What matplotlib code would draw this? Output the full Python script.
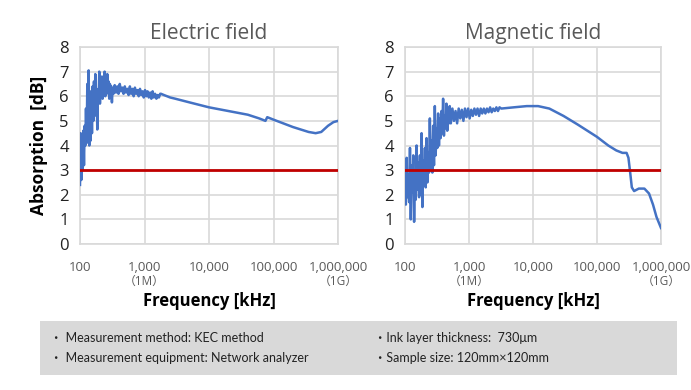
import numpy as np
import matplotlib
matplotlib.use("Agg")
import matplotlib.pyplot as plt
from matplotlib.patches import Rectangle

plt.rcParams['font.family'] = ['Open Sans', 'Noto Sans CJK JP', 'DejaVu Sans']

# ---------------- data ----------------
# Electric field: noisy low-frequency part (100-320 kHz)
e_noisy1 = [2.4, 4.5, 2.6, 4.4, 3.0, 4.6, 3.2, 4.8, 4.0, 5.5, 4.1, 6.5, 4.3, 7.05,
            4.0, 6.2, 4.2, 6.0, 4.5, 6.4, 5.0, 6.6, 5.2, 6.9, 5.5, 6.3, 4.65, 6.2,
            5.8, 7.0, 5.7, 6.5, 6.0, 6.8, 5.9, 6.6, 6.1, 7.0, 6.0, 6.7, 6.1, 6.9,
            6.2, 6.6, 5.9, 6.5, 6.1, 6.4, 5.75, 6.3]
# Electric field: moderately noisy part (330-1750 kHz)
e_noisy2 = [6.1, 6.45, 6.15, 6.4, 6.1, 6.5, 6.2, 6.35, 6.1, 6.4, 6.15, 6.3, 6.05,
            6.4, 6.1, 6.3, 6.0, 6.35, 6.1, 6.25, 6.0, 6.3, 6.05, 6.2, 5.95, 6.25,
            6.0, 6.2, 5.95, 6.15, 5.9, 6.2, 5.95, 6.1, 5.9, 6.05, 5.95, 6.1]
# Electric field: smooth high-frequency part
e_freq_smooth = [1800, 2000, 2500, 3000, 5000, 10000, 20000, 40000, 60000, 75000,
                 80000, 100000, 200000, 350000, 450000, 550000, 700000, 850000, 1000000]
e_val_smooth = [6.1, 6.05, 5.95, 5.9, 5.75, 5.55, 5.4, 5.25, 5.1, 5.0,
                5.15, 5.05, 4.75, 4.55, 4.5, 4.55, 4.8, 4.95, 5.0]

# Magnetic field: noisy low-frequency part (100-500 kHz)
m_noisy1 = [2.7, 1.6, 3.5, 1.9, 2.8, 1.7, 3.9, 1.0, 3.2, 2.1, 3.6, 0.9, 3.0, 1.8,
            4.0, 2.2, 3.3, 1.9, 3.6, 2.0, 4.5, 1.5, 3.4, 2.4, 3.9, 2.3, 4.3, 2.5,
            3.7, 2.9, 5.1, 3.0, 4.2, 2.9, 4.8, 3.2, 5.6, 3.6, 4.7, 3.9, 5.3, 4.0,
            5.1, 4.3, 5.4, 4.5, 5.9, 4.4, 5.2, 4.7, 5.7, 4.6, 5.5, 4.9, 5.6]
# Magnetic field: moderately noisy part (520-3000 kHz)
m_noisy2 = [4.9, 5.5, 5.0, 5.4, 4.9, 5.5, 5.1, 5.45, 5.0, 5.5, 5.15, 5.5, 5.1,
            5.45, 5.2, 5.5, 5.25, 5.5, 5.2, 5.5, 5.3, 5.5, 5.3, 5.5, 5.35, 5.55,
            5.35, 5.5, 5.4, 5.55, 5.4, 5.55]
# Magnetic field: smooth high-frequency part
m_freq_smooth = [3200, 5000, 8000, 12000, 18000, 30000, 50000, 100000, 150000,
                 200000, 250000, 290000, 310000, 330000, 350000, 380000, 450000,
                 550000, 650000, 750000, 850000, 1000000]
m_val_smooth = [5.5, 5.55, 5.6, 5.6, 5.5, 5.2, 4.85, 4.35, 4.0,
                3.8, 3.7, 3.7, 3.5, 2.9, 2.3, 2.15, 2.25,
                2.25, 2.05, 1.6, 1.1, 0.65]

threshold = 3.0
x_ticks = [100, 1000, 10000, 100000, 1000000]
x_ticklabels = ["100", "1,000", "10,000", "100,000", "1,000,000"]
x_sublabels = {1000: "（1M）", 1000000: "（1G）"}
titles = ["Electric field", "Magnetic field"]
notes_left = ["・ Measurement method: KEC method",
              "・ Measurement equipment: Network analyzer"]
notes_right = ["・Ink layer thickness:  730μm",
               "・Sample size: 120mm×120mm"]

e_freq = np.concatenate([np.geomspace(100, 320, len(e_noisy1)),
                         np.geomspace(330, 1750, len(e_noisy2)),
                         e_freq_smooth])
e_val = np.concatenate([e_noisy1, e_noisy2, e_val_smooth])
m_freq = np.concatenate([np.geomspace(100, 500, len(m_noisy1)),
                         np.geomspace(520, 3000, len(m_noisy2)),
                         m_freq_smooth])
m_val = np.concatenate([m_noisy1, m_noisy2, m_val_smooth])

# ---------------- figure ----------------
W, H = 691, 390
fig = plt.figure(figsize=(W / 100, H / 100), dpi=100)

def px_axes(x0, x1, y0, y1):
    return fig.add_axes([x0 / W, 1 - y1 / H, (x1 - x0) / W, (y1 - y0) / H])

ax1 = px_axes(80, 338, 47, 244)
ax2 = px_axes(405, 661, 47, 244)

blue = "#4472c4"
red = "#c00000"
grid_c = "#d9d9d9"
tick_c = "#595959"

for ax, f, v, title in [(ax1, e_freq, e_val, titles[0]), (ax2, m_freq, m_val, titles[1])]:
    ax.set_xscale("log")
    ax.set_xlim(100, 1000000)
    ax.set_ylim(0, 8)
    ax.set_yticks(range(0, 9))
    ax.set_xticks(x_ticks)
    ax.set_xticklabels(x_ticklabels)
    ax.xaxis.set_minor_locator(matplotlib.ticker.NullLocator())
    ax.grid(True, color=grid_c, linewidth=1.2)
    ax.set_axisbelow(True)
    for s in ax.spines.values():
        s.set_color(grid_c)
        s.set_linewidth(1.2)
    ax.tick_params(length=0)
    ax.tick_params(axis="y", labelsize=12, colors="#222222", pad=8)
    ax.tick_params(axis="x", labelsize=9.5, colors=tick_c, pad=12)
    ax.plot(f, v, color=blue, linewidth=1.8, zorder=3)
    ax.axhline(threshold, color=red, linewidth=2, zorder=4)
    ax.set_title(title, fontsize=15, color=tick_c, pad=6)
    for xv, lab in x_sublabels.items():
        ax.annotate(lab, xy=(xv, 0), xycoords=("data", "axes fraction"),
                    xytext=(0, -22), textcoords="offset points",
                    ha="center", va="top", fontsize=8.5, color=tick_c,
                    annotation_clip=False)
    ax.set_xlabel("Frequency [kHz]", fontsize=12, fontweight="bold",
                  color="black", labelpad=13)

ax1.set_ylabel("Absorption  [dB]", fontsize=12.5, fontweight="bold", labelpad=8)

# note box
fig.patches.append(Rectangle((40 / W, 1 - 375 / H), (677 - 40) / W, (375 - 321) / H,
                             transform=fig.transFigure, facecolor="#d9d9d9",
                             edgecolor="none", zorder=0))
for i, t in enumerate(notes_left):
    fig.text(50 / W, 1 - (338 + 20 * i) / H, t, fontsize=9, va="center",
             ha="left", color="#222222", family=["Lato", "Noto Sans CJK JP", "DejaVu Sans"])
for i, t in enumerate(notes_right):
    fig.text(374 / W, 1 - (338 + 20 * i) / H, t, fontsize=9, va="center",
             ha="left", color="#222222", family=["Lato", "Noto Sans CJK JP", "DejaVu Sans"])

fig.savefig("out.png", dpi=100)
